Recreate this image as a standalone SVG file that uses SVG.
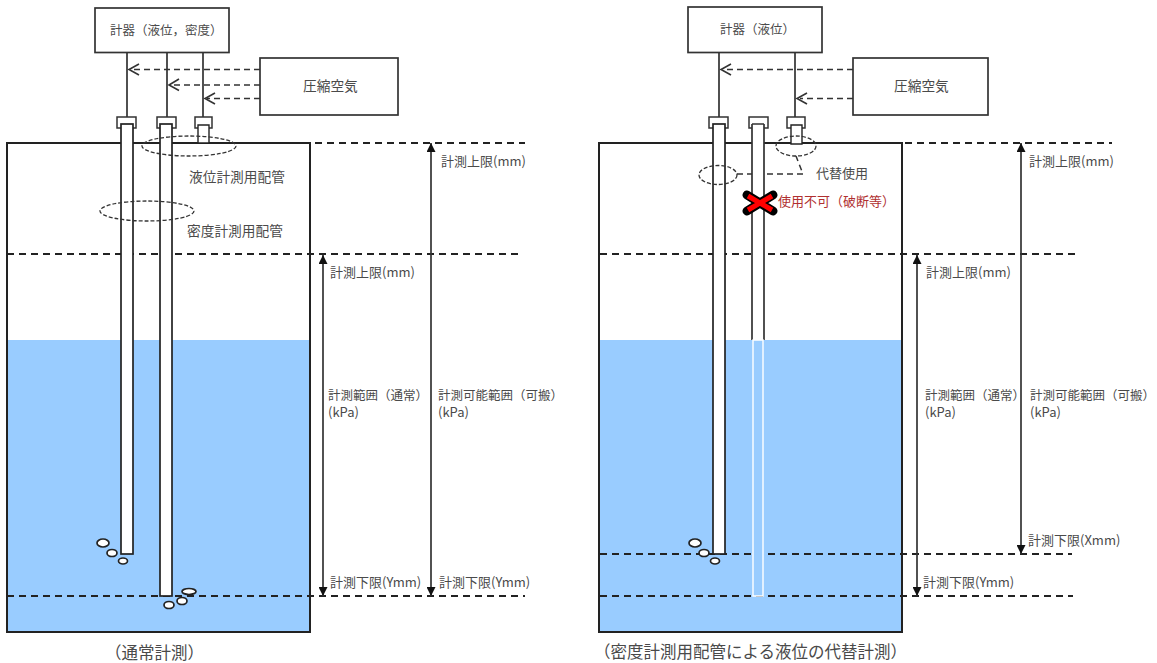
<svg xmlns="http://www.w3.org/2000/svg" width="1157" height="663" viewBox="0 0 1157 663">
<style>
text{font-family:"Noto Sans CJK JP","Liberation Sans",sans-serif;font-size:13px;fill:#4a4a4a}
.s12{font-size:12.500px}
.s14{font-size:13.700px}
.wide{font-size:12.500px}
.cap-t{font-size:16.500px}
.box{fill:#fff;stroke:#333;stroke-width:1.7}
.tank{fill:none;stroke:#222;stroke-width:2}
.water{fill:#99ccff}
.pipe{fill:#fff;stroke:#222;stroke-width:1.7}
.wpipe{fill:#99ccff;stroke:#fff;stroke-width:1.4}
.cap{fill:#fff;stroke:#333;stroke-width:1.5}
.ln{fill:none;stroke:#333;stroke-width:1.7}
.dash{fill:none;stroke:#222;stroke-width:2;stroke-dasharray:7 5}
.air{fill:none;stroke:#333;stroke-width:1.5;stroke-dasharray:6 4}
.open{fill:none;stroke:#333;stroke-width:1.6}
.ell{fill:none;stroke:#333;stroke-width:1.3;stroke-dasharray:4 2}
.dim{fill:none;stroke:#333;stroke-width:1.7;marker-start:url(#a);marker-end:url(#a)}
.bub{fill:#fff;stroke:#222;stroke-width:1.7}
</style>
<defs>
<marker id="a" viewBox="0 0 10 10" refX="10" refY="5" markerWidth="9" markerHeight="9" markerUnits="userSpaceOnUse" orient="auto-start-reverse"><path d="M0 0L10 5L0 10Z" fill="#111"/></marker>
</defs>
<g id="water">
<rect class="water" x="7" y="340" width="303" height="292"/>
<rect class="water" x="599" y="340" width="303" height="292"/>
</g>
<g id="tank-left"><rect class="tank" x="7" y="143" width="303" height="489"/></g>
<g id="tank-right"><rect class="tank" x="599" y="143" width="303" height="489"/></g>
<g id="connectors">
<path class="dash" d="M315 143H525M7 254H518M7 596H525M905 143H1112M600 254H1075M600 554H1072M600 596H1073"/>
<path class="ln" d="M127 52V117M167 52V117M203 52V117M719 52V117M795 52V117"/>
<path class="air" d="M260 69.500H131M260 85H171M260 98.500H207M853 69.500H724M853 98.500H800"/>
<path class="open" d="M139 64L129 69.500L139 75M179 79L169 85L179 90.500M215 93L205 98.500L215 104M731 64L721 69.500L731 75M807 93L797 98.500L807 104"/>
<path class="dim" d="M323 255V596"/>
<path class="dim" d="M431 143V596"/>
<path class="dim" d="M917 255V596"/>
<path class="dim" d="M1021 143V554"/>
<path class="air" d="M737 174H803L796 156"/>
</g>
<g id="pipes-left">
<rect class="cap" x="117" y="117" width="19" height="11"/><rect class="cap" x="157" y="117" width="19" height="11"/><rect class="cap" x="195" y="117" width="17" height="11"/>
<rect class="pipe" x="121" y="124" width="12" height="430"/><rect class="pipe" x="160" y="124" width="12" height="472"/><path d="M198 125H209V143H198Z" fill="#fff" stroke="#222" stroke-width="1.400"/>
</g>
<g id="pipes-right">
<rect class="cap" x="709" y="117" width="19" height="11"/><rect class="cap" x="749" y="117" width="19" height="11"/><rect class="cap" x="787" y="117" width="18" height="11"/>
<rect class="pipe" x="713" y="124" width="12" height="430"/>
<path d="M752 124H764V340H752Z" fill="#fff"/><path class="ln" d="M752 124H764M752 124V340M764 124V340"/>
<path class="wpipe" d="M753 340H763V596H753Z"/>
<path d="M791 125H802V144H791Z" fill="#fff" stroke="#222" stroke-width="1.400"/>
</g>
<g id="ellipses">
<ellipse class="ell" cx="189" cy="146" rx="47" ry="10"/>
<ellipse class="ell" cx="147" cy="211" rx="47" ry="10"/>
<ellipse class="ell" cx="796" cy="146" rx="20" ry="10"/>
<ellipse class="ell" cx="718" cy="175" rx="19" ry="9.500"/>
</g>
<g id="bubbles">
<ellipse class="bub" cx="103" cy="543" rx="6" ry="4"/><ellipse class="bub" cx="112" cy="553" rx="5" ry="3.500"/><ellipse class="bub" cx="123" cy="561" rx="4.500" ry="3"/>
<ellipse class="bub" cx="189" cy="591.500" rx="7" ry="3"/><ellipse class="bub" cx="182" cy="601" rx="5" ry="3.500"/><ellipse class="bub" cx="169" cy="605" rx="5" ry="3.500"/>
<ellipse class="bub" cx="695" cy="543" rx="6" ry="4"/><ellipse class="bub" cx="704" cy="553" rx="5" ry="3.500"/><ellipse class="bub" cx="715" cy="561" rx="4.500" ry="3"/>
</g>
<g id="cross">
<path d="M747 195L773 211M773 195L747 211" stroke="#000" stroke-width="9" fill="none" stroke-linecap="round"/>
<path d="M748 196L772 210M772 196L748 210" stroke="#ff0000" stroke-width="5" fill="none"/>
</g>
<g id="box-gauge-left"><rect class="box" x="95" y="8" width="134" height="44.500"/><text class="s12" x="110" y="35">計器（液位，密度）</text></g>
<g id="box-air-left"><rect class="box" x="260" y="58" width="138" height="57"/><text class="s14" x="303" y="91">圧縮空気</text></g>
<g id="box-gauge-right"><rect class="box" x="688" y="7" width="134" height="45.500"/><text class="s12" x="720" y="34">計器（液位）</text></g>
<g id="box-air-right"><rect class="box" x="853" y="58" width="135" height="57"/><text class="s14" x="894" y="91">圧縮空気</text></g>
<g id="labels">
<text class="s14" x="189" y="182">液位計測用配管</text>
<text class="s14" x="187" y="236">密度計測用配管</text>
<text x="330" y="277">計測上限(mm)</text>
<text x="441" y="166">計測上限(mm)</text>
<text class="s12" x="328" y="400">計測範囲（通常）</text>
<text x="328" y="417">(kPa)</text>
<text class="wide" x="438" y="400">計測可能範囲（可搬）</text>
<text x="438" y="417">(kPa)</text>
<text x="330" y="587">計測下限(Ymm)</text>
<text x="439" y="587">計測下限(Ymm)</text>
<text class="cap-t" x="105" y="659">（通常計測）</text>
<text x="816" y="178">代替使用</text>
<text x="778" y="206" style="fill:#b03030">使用不可（破断等）</text>
<text x="926" y="277">計測上限(mm)</text>
<text x="1029" y="166">計測上限(mm)</text>
<text class="s12" x="925" y="400">計測範囲（通常）</text>
<text x="925" y="417">(kPa)</text>
<text class="wide" x="1030" y="400">計測可能範囲（可搬）</text>
<text x="1030" y="417">(kPa)</text>
<text x="1028" y="545">計測下限(Xmm)</text>
<text x="923" y="587">計測下限(Ymm)</text>
<text class="cap-t" x="594" y="658">（密度計測用配管による液位の代替計測）</text>
</g>
</svg>
